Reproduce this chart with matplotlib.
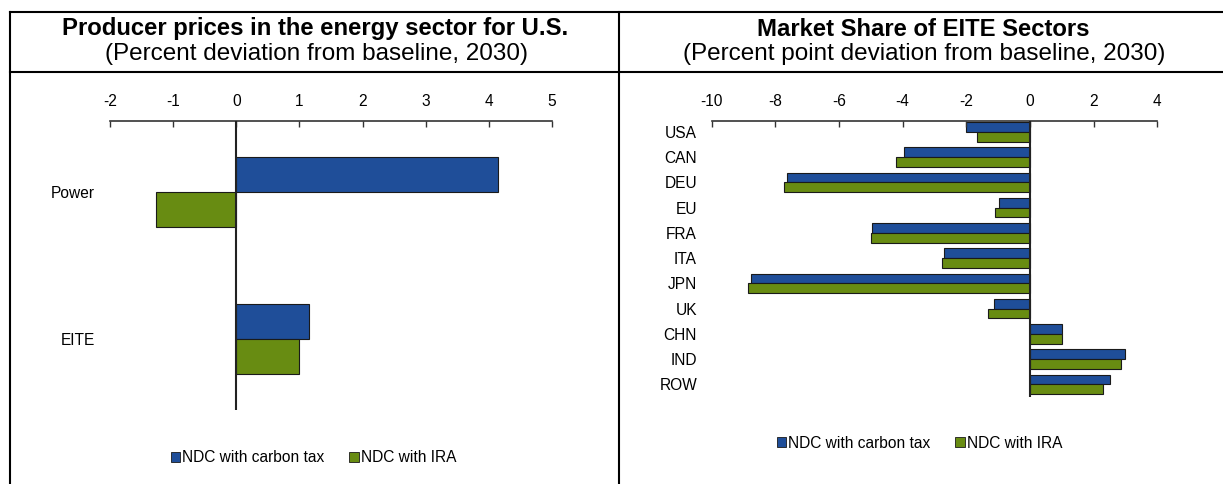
import matplotlib
matplotlib.use("Agg")
import matplotlib.pyplot as plt
from matplotlib.patches import Patch
from matplotlib.lines import Line2D

plt.rcParams['font.family'] = ['Liberation Sans', 'DejaVu Sans']
plt.rcParams['axes.unicode_minus'] = False

# ---- data ----
left_title = "Producer prices in the energy sector for U.S."
left_sub = "(Percent deviation from baseline, 2030)"
left_cats = ["Power", "EITE"]
left_carbon = [4.15, 1.15]
left_ira = [-1.27, 1.0]
left_ticks = [-2, -1, 0, 1, 2, 3, 4, 5]

right_title = "Market Share of EITE Sectors"
right_sub = "(Percent point deviation from baseline, 2030)"
right_cats = ["USA", "CAN", "DEU", "EU", "FRA", "ITA", "JPN", "UK", "CHN", "IND", "ROW"]
right_carbon = [-2.01, -3.95, -7.64, -0.98, -4.95, -2.69, -8.76, -1.12, 1.0, 3.0, 2.5]
right_ira = [-1.66, -4.22, -7.72, -1.09, -4.98, -2.77, -8.85, -1.31, 1.0, 2.86, 2.31]
right_ticks = [-10, -8, -6, -4, -2, 0, 2, 4]

series_names = ["NDC with carbon tax", "NDC with IRA"]
BLUE = "#1F4E99"
GREEN = "#688C12"
EDGE = "#1a1a1a"

W, H = 1223, 484
fig = plt.figure(figsize=(W / 100, H / 100), dpi=100)

def fx(px):
    return px / W

def fy(py):
    return 1 - py / H

# frame lines
lw_frame = 1.5
fig.add_artist(Line2D([fx(10), fx(10)], [fy(12), fy(484)], color="black", lw=lw_frame))
fig.add_artist(Line2D([fx(619), fx(619)], [fy(12), fy(484)], color="black", lw=lw_frame))
fig.add_artist(Line2D([fx(10), 1.0], [fy(12), fy(12)], color="black", lw=lw_frame))
fig.add_artist(Line2D([fx(10), 1.0], [fy(72), fy(72)], color="black", lw=lw_frame))

# titles
TFS = 17.2
fig.text(fx(315), fy(35.5), left_title, ha="center", va="baseline", fontsize=TFS, fontweight="bold")
fig.text(fx(316), fy(60), left_sub, ha="center", va="baseline", fontsize=TFS + 0.3)
fig.text(fx(923), fy(35.5), right_title, ha="center", va="baseline", fontsize=TFS, fontweight="bold")
fig.text(fx(924), fy(60), right_sub, ha="center", va="baseline", fontsize=TFS + 0.3)

FS = 11.2


def style_axes(ax, ticks, cats, pad_y):
    ax.xaxis.tick_top()
    ax.set_xticks(ticks)
    ax.set_xticklabels([str(t) for t in ticks])
    ax.tick_params(axis="x", direction="in", length=4, width=1, color="#333333",
                   labelsize=FS, pad=8.5)
    for s in ["left", "right", "bottom"]:
        ax.spines[s].set_visible(False)
    ax.spines["top"].set_color("#333333")
    ax.spines["top"].set_linewidth(1.2)
    ax.set_yticks(range(len(cats)))
    ax.set_yticklabels(cats)
    ax.tick_params(axis="y", length=0, labelsize=FS, pad=pad_y)
    ax.axvline(0, color="#222222", lw=1.5, zorder=3)
    ax.set_facecolor("none")


# left chart
axL = fig.add_axes([fx(110), fy(410), fx(552) - fx(110), fy(121) - fy(410)])
yl = list(range(len(left_cats)))
hL = 0.238
axL.barh([y - hL / 2 for y in yl], left_carbon, height=hL, color=BLUE, edgecolor=EDGE, lw=0.8)
axL.barh([y + hL / 2 for y in yl], left_ira, height=hL, color=GREEN, edgecolor=EDGE, lw=0.8)
axL.set_xlim(-2, 5)
axL.set_ylim(1.483, -0.483)
style_axes(axL, left_ticks, left_cats, 10.8)

# right chart
axR = fig.add_axes([fx(711.6), fy(397), fx(1157.3) - fx(711.6), fy(121) - fy(397)])
yr = list(range(len(right_cats)))
hR = 0.39
axR.barh([y - hR / 2 for y in yr], right_carbon, height=hR, color=BLUE, edgecolor=EDGE, lw=0.8)
axR.barh([y + hR / 2 for y in yr], right_ira, height=hR, color=GREEN, edgecolor=EDGE, lw=0.8)
axR.set_xlim(-10, 4)
axR.set_ylim(10.5, -0.43)
style_axes(axR, right_ticks, right_cats, 10.5)

handles = [Patch(facecolor=BLUE, edgecolor=EDGE, lw=0.6),
           Patch(facecolor=GREEN, edgecolor=EDGE, lw=0.6)]
for cx, cy in [(313.5, 458), (919.5, 443)]:
    fig.legend(handles, series_names, loc="center", bbox_to_anchor=(fx(cx), fy(cy)),
               bbox_transform=fig.transFigure, ncol=2, frameon=False, fontsize=FS,
               handlelength=0.6, handleheight=0.6, handletextpad=0.15,
               columnspacing=1.6, borderpad=0, borderaxespad=0)

fig.savefig("out.png", dpi=100)
